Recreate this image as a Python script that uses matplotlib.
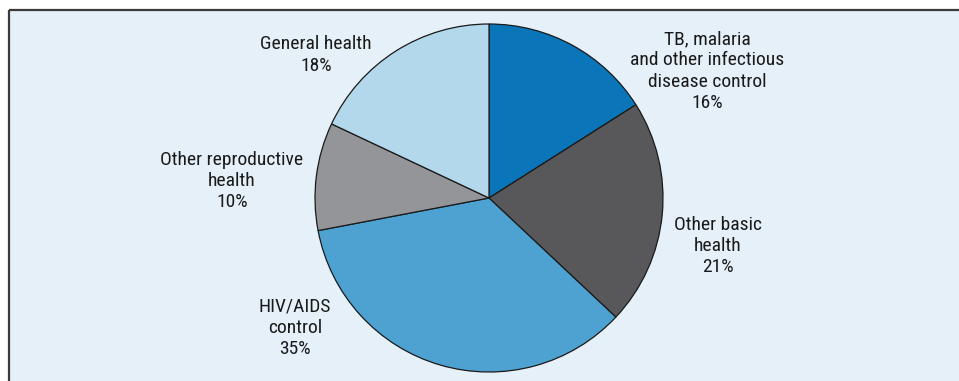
import matplotlib
matplotlib.use("Agg")
import matplotlib.pyplot as plt
from matplotlib.patches import Rectangle

# shares of health aid, clockwise from 12 o'clock
labels = ["TB, malaria\nand other infectious\ndisease control",
          "Other basic\nhealth",
          "HIV/AIDS\ncontrol",
          "Other reproductive\nhealth",
          "General health"]
shares = [16, 21, 35, 10, 18]
colors = ["#0a75b9", "#58585a", "#4ea2d2", "#939598", "#b3d8ec"]

# label anchor points (figure pixel coords, y from bottom)
label_pos = [(707, 310), (718, 135), (295, 53), (232, 200), (316, 326)]

W, H = 959, 381
fig = plt.figure(figsize=(W / 100, H / 100), dpi=100)
fig.patch.set_facecolor("white")
ax = fig.add_axes([0, 0, 1, 1])

# panel background and border (left + top)
ax.add_patch(Rectangle((9, 0), W - 9, H - 10, facecolor="#e5f0f8", edgecolor="none", zorder=0))
ax.plot([9, 9], [0, H - 10], color="#3a3a3a", lw=1.6, zorder=1, solid_capstyle="butt")
ax.plot([9, W], [H - 10, H - 10], color="#3a3a3a", lw=1.6, zorder=1, solid_capstyle="butt")

ax.pie(shares, colors=colors, startangle=90, counterclock=False,
       center=(489, 183), radius=174, frame=True,
       wedgeprops=dict(edgecolor="#1a1a1a", linewidth=0.9))
ax.set_xlim(0, W)
ax.set_ylim(0, H)
ax.set_aspect("equal")
ax.axis("off")

for lab, share, (x, y) in zip(labels, shares, label_pos):
    ax.text(x, y, "%s\n%d%%" % (lab, share), ha="center", va="center",
            fontsize=14, family=["Roboto Condensed", "Archivo Narrow", "DejaVu Sans"],
            color="#1a1a1a", linespacing=1.22)

fig.savefig("out.png", dpi=100)
